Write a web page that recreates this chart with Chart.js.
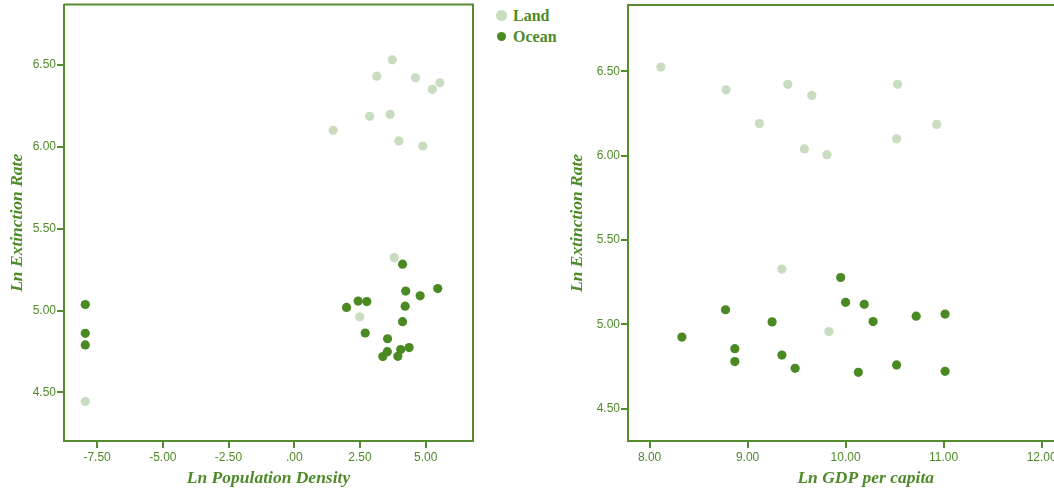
<!DOCTYPE html>
<html>
<head>
<meta charset="utf-8">
<script src="https://cdn.jsdelivr.net/npm/chart.js@4/dist/chart.umd.min.js"></script>
<style>
  html, body { margin: 0; padding: 0; background: #fff; }
  body { width: 1054px; height: 491px; position: relative; overflow: hidden; }
  .box { position: absolute; top: 0; height: 491px; }
  #leftBox { left: 0; width: 480px; }
  #rightBox { left: 560px; width: 548px; }
  .legend { position: absolute; left: 496px; top: 5px; font: bold 16px "Liberation Serif", serif; color: #4e8a28; }
  .legend div { height: 21px; line-height: 21px; white-space: nowrap; }
  .dot { display: inline-block; border-radius: 50%; vertical-align: middle; margin-right: 6px; position: relative; top: -2px; }
</style>
</head>
<body>
<div class="box" id="leftBox"><canvas id="popChart"></canvas></div>
<div class="box" id="rightBox"><canvas id="gdpChart"></canvas></div>
<div class="legend">
  <div><span class="dot" style="width:11px;height:11px;background:#c8dcc0"></span>Land</div>
  <div><span class="dot" style="width:9px;height:9px;background:#4b8a22;margin-left:1px;margin-right:7px"></span>Ocean</div>
</div>
<script>
// Ln population density vs ln extinction rate
const popLandX = [3.73, 3.14, 4.61, 5.54, 5.25, 2.87, 3.65, 1.48, 3.98, 4.89, 3.80, 2.49, -7.95];
const popLandY = [6.53, 6.43, 6.42, 6.39, 6.35, 6.185, 6.197, 6.10, 6.035, 6.004, 5.323, 4.962, 4.445];
const popOceanX = [4.12, 4.24, 5.46, 4.79, 2.43, 2.76, 1.99, 4.22, 4.12, 2.70, 3.55, 3.54, 3.37, 4.05, 4.37, 3.94, -7.95, -7.95, -7.95];
const popOceanY = [5.283, 5.119, 5.134, 5.090, 5.058, 5.055, 5.019, 5.027, 4.932, 4.863, 4.828, 4.749, 4.719, 4.762, 4.774, 4.721, 5.037, 4.861, 4.790];

// Ln GDP per capita vs ln extinction rate
const gdpLandX = [8.115, 8.78, 9.41, 9.12, 9.58, 9.655, 10.53, 10.93, 10.52, 9.81, 9.35, 9.83];
const gdpLandY = [6.525, 6.39, 6.423, 6.19, 6.04, 6.357, 6.423, 6.185, 6.10, 6.006, 5.328, 4.958];
const gdpOceanX = [8.33, 8.775, 8.87, 8.87, 9.25, 9.35, 9.485, 9.95, 10.0, 10.19, 10.28, 10.72, 11.015, 10.13, 10.52, 11.015];
const gdpOceanY = [4.925, 5.087, 4.856, 4.780, 5.015, 4.818, 4.740, 5.278, 5.131, 5.119, 5.017, 5.049, 5.061, 4.716, 4.760, 4.722];

// tick labels
const popXTicks = [-7.5, -5, -2.5, 0, 2.5, 5];
const gdpXTicks = [8, 9, 10, 11, 12];
const rateYTicks = [4.5, 5, 5.5, 6, 6.5];

const green = '#4e8a28';
const axisGreen = '#568c2e';
const landColor = '#c8dcc0';
const oceanColor = '#4b8a22';

function pts(xs, ys) {
    return xs.map((x, i) => ({ x: x, y: ys[i] }));
}

function fmt(v) {
    let s = Number(v).toFixed(2);
    if (s === '0.00') s = '.00';
    return s;
}

// draws the top and right side of the frame
const framePlugin = {
    id: 'frame',
    afterDraw(chart) {
        const a = chart.chartArea;
        const ctx = chart.ctx;
        ctx.save();
        ctx.strokeStyle = axisGreen;
        ctx.lineWidth = 2;
        ctx.beginPath();
        ctx.moveTo(a.left, a.top);
        ctx.lineTo(a.right, a.top);
        ctx.lineTo(a.right, a.bottom);
        ctx.stroke();
        ctx.restore();
    }
};

const tickFont = { family: '"Liberation Sans", Arial, sans-serif', size: 12 };
const titleFont = { family: '"Liberation Serif", serif', size: 17.5, style: 'italic', weight: 'bold' };

function makeChart(id, land, ocean, xr, yr, xTicks, xTitle, pad, yWidth) {
    const ctx = document.getElementById(id).getContext('2d');
    return new Chart(ctx, {
        type: 'scatter',
        data: {
            datasets: [
                { label: 'Land', data: land, backgroundColor: landColor, borderWidth: 0, pointRadius: 4.6, pointHoverRadius: 4.6 },
                { label: 'Ocean', data: ocean, backgroundColor: oceanColor, borderWidth: 0, pointRadius: 4.6, pointHoverRadius: 4.6 }
            ]
        },
        options: {
            responsive: true,
            maintainAspectRatio: false,
            animation: false,
            layout: { padding: pad },
            plugins: {
                legend: { display: false },
                tooltip: { enabled: false }
            },
            scales: {
                x: {
                    type: 'linear',
                    min: xr[0],
                    max: xr[1],
                    afterBuildTicks: s => { s.ticks = xTicks.map(v => ({ value: v })); },
                    afterFit: s => { s.height = 50; s.paddingLeft = 0; s.paddingRight = 0; },
                    grid: { drawOnChartArea: false, drawTicks: true, tickLength: 7, color: axisGreen, lineWidth: 2 },
                    border: { display: true, color: axisGreen, width: 2 },
                    ticks: { color: green, padding: 2, maxRotation: 0, font: tickFont, callback: v => fmt(v) },
                    title: {
                        display: true, text: xTitle, color: green, font: titleFont,
                        padding: { top: 0, bottom: 2 }
                    }
                },
                y: {
                    type: 'linear',
                    min: yr[0],
                    max: yr[1],
                    afterBuildTicks: s => { s.ticks = rateYTicks.map(v => ({ value: v })); },
                    afterFit: s => { s.width = yWidth; s.paddingTop = 0; s.paddingBottom = 0; },
                    grid: { drawOnChartArea: false, drawTicks: true, tickLength: 7, color: axisGreen, lineWidth: 2 },
                    border: { display: true, color: axisGreen, width: 2 },
                    ticks: { color: green, padding: 1, font: tickFont, callback: v => fmt(v) },
                    title: {
                        display: true, text: 'Ln Extinction Rate', color: green, font: titleFont,
                        padding: { top: 7, bottom: 0 }
                    }
                }
            }
        },
        plugins: [framePlugin]
    });
}

document.addEventListener('DOMContentLoaded', function() {
    makeChart('popChart', pts(popLandX, popLandY), pts(popOceanX, popOceanY),
        [-8.76, 6.80], [4.204, 6.867], popXTicks, 'Ln Population Density',
        { top: 3, right: 7, left: 0, bottom: 0 }, 64);
    // the right plot runs past the window edge, as in the cropped original
    makeChart('gdpChart', pts(gdpLandX, gdpLandY), pts(gdpOceanX, gdpOceanY),
        [7.78, 12.63], [4.309, 6.893], gdpXTicks, 'Ln GDP per capita',
        { top: 5, right: 4, left: 0, bottom: 0 }, 68);
});
</script>
</body>
</html>
